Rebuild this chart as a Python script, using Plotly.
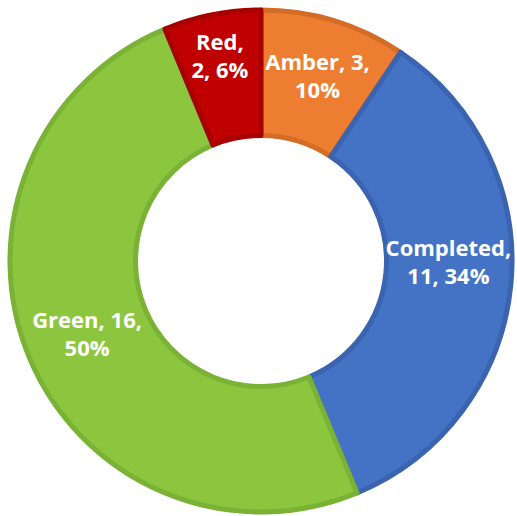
import plotly.graph_objects as go

categories = ["Amber", "Completed", "Green", "Red"]
values = [3, 11, 16, 2]
pct_labels = ["10%", "34%", "50%", "6%"]

fill_colors = ["#ED7D31", "#4472C4", "#8CC63F", "#C00000"]
edge_colors = ["#D46C26", "#3B64B0", "#7AB236", "#A80000"]
break_after_name = [False, True, False, True]

texts = []
for c, v, p, b in zip(categories, values, pct_labels, break_after_name):
    if b:
        texts.append(f"{c},<br>{v}, {p}")
    else:
        texts.append(f"{c}, {v},<br>{p}")

fig = go.Figure(go.Pie(
    labels=categories,
    values=values,
    text=texts,
    texttemplate="%{text}",
    textposition="inside",
    insidetextorientation="horizontal",
    hole=0.5,
    sort=False,
    direction="clockwise",
    rotation=0,
    marker=dict(colors=fill_colors, line=dict(color=edge_colors, width=5)),
    textfont=dict(family="Open Sans", size=22, color="white", weight="bold"),
    showlegend=False,
    hoverinfo="label+value+percent",
))

fig.update_layout(
    width=517, height=516,
    margin=dict(l=10, r=5, t=10, b=4),
    paper_bgcolor="white",
    plot_bgcolor="white",
    uniformtext=dict(minsize=22, mode="show"),
)

fig.write_html(
    "out.html",
    config={"displayModeBar": False},
    post_script="document.body.style.margin='0';document.body.style.overflow='hidden';",
)
